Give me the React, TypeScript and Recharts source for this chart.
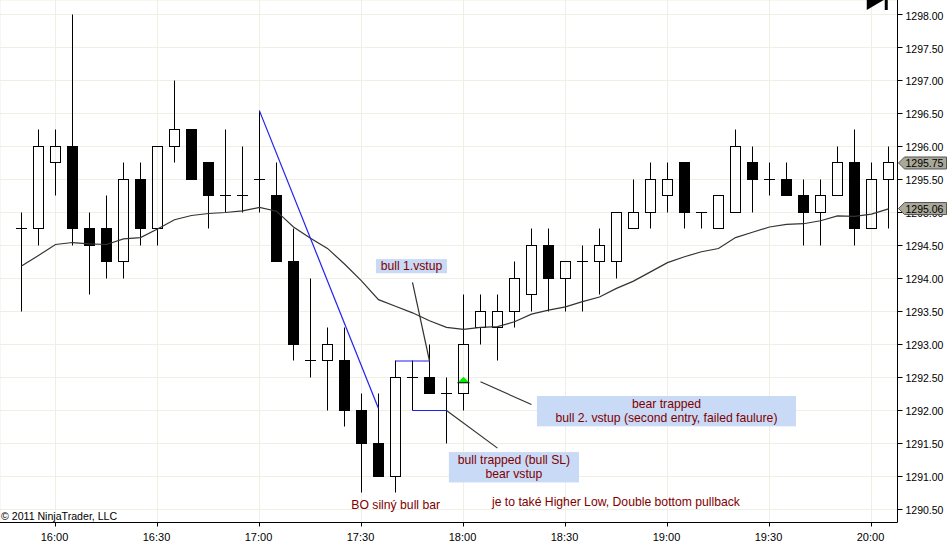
import React from 'react';
import {
  ComposedChart, Bar, Line, XAxis, YAxis, CartesianGrid,
  ReferenceLine, ReferenceArea, ReferenceDot,
} from 'recharts';

// bar start times, minutes after midnight
const times = [
  950, 955, 960, 965, 970, 975, 980, 985, 990, 995, 1000, 1005, 1010, 1015, 1020, 1025, 1030, 1035,
  1040, 1045, 1050, 1055, 1060, 1065, 1070, 1075, 1080, 1085, 1090, 1095, 1100, 1105, 1110, 1115,
  1120, 1125, 1130, 1135, 1140, 1145, 1150, 1155, 1160, 1165, 1170, 1175, 1180, 1185, 1190, 1195,
  1200, 1205,
];
const opens = [
  1294.75, 1294.75, 1295.75, 1296, 1294.75, 1294.75, 1294.25, 1295.5, 1294.75, 1296, 1296.25, 1295.75, 1295.25, 1295.25, 1295.5, 1295.25, 1294.25, 1292.75,
  1292.75, 1292.75, 1292, 1291.5, 1291, 1292.5, 1292.5, 1292.25, 1292.25, 1293.25, 1293.25, 1293.5, 1293.75, 1294.5, 1294, 1294.25,
  1294.25, 1294.25, 1294.75, 1295, 1295.25, 1295.75, 1295, 1294.75, 1295, 1295.75, 1295.5, 1295.5, 1295.25, 1295, 1295.25, 1295.75,
  1294.75, 1295.5,
];
const closes = [
  1294.75, 1296, 1296, 1294.75, 1294.5, 1294.25, 1295.5, 1294.75, 1296, 1296.25, 1295.5, 1295.25, 1295.25, 1295.25, 1295.5, 1294.25, 1293, 1292.75,
  1293, 1292, 1291.5, 1291, 1292.5, 1292.5, 1292.25, 1292.25, 1293, 1293.5, 1293.5, 1294, 1294.5, 1294, 1294.25, 1294.25,
  1294.5, 1295, 1295, 1295.5, 1295.5, 1295, 1295, 1295.25, 1296, 1295.5, 1295.5, 1295.25, 1295, 1295.25, 1295.75, 1294.75,
  1295.5, 1295.75,
];
const highs = [
  1295, 1296.25, 1296.25, 1298, 1295, 1295.25, 1295.75, 1295.75, 1296, 1297, 1296.25, 1295.75, 1296.25, 1296, 1296.54, 1295.75, 1294.75, 1294,
  1293.25, 1293.25, 1292.25, 1292.25, 1292.75, 1292.75, 1293, 1292.5, 1293.75, 1293.75, 1293.75, 1294.25, 1294.75, 1294.75, 1294.25, 1294.5,
  1294.75, 1295, 1295.5, 1295.75, 1295.75, 1295.75, 1295, 1295.25, 1296.25, 1296, 1295.75, 1295.75, 1295.5, 1295.5, 1296, 1296.25,
  1295.75, 1296,
];
const lows = [
  1293.5, 1294.5, 1295.25, 1294.5, 1293.75, 1294, 1294, 1294.5, 1294.5, 1295.75, 1295.5, 1294.75, 1295, 1295, 1295, 1294.25, 1292.75, 1292.5,
  1292, 1291.75, 1290.75, 1291, 1290.75, 1292, 1292.25, 1291.5, 1292, 1293, 1292.75, 1293.25, 1293.5, 1293.5, 1293.5, 1293.5,
  1293.75, 1294, 1294.75, 1294.75, 1295, 1294.75, 1294.75, 1294.75, 1295, 1295, 1295.25, 1295.25, 1294.5, 1294.5, 1295.25, 1294.5,
  1294.75, 1294.75,
];
const movingAverage = [
  1294.19, 1294.35, 1294.515, 1294.545, 1294.525, 1294.515, 1294.6, 1294.62, 1294.75, 1294.89, 1294.955, 1294.985, 1295, 1295.025, 1295.076, 1295.02, 1294.78, 1294.61,
  1294.456, 1294.22, 1293.965, 1293.68, 1293.58, 1293.48, 1293.36, 1293.26, 1293.23, 1293.26, 1293.27, 1293.345, 1293.46, 1293.52, 1293.57, 1293.65,
  1293.72, 1293.85, 1293.96, 1294.1, 1294.24, 1294.33, 1294.405, 1294.455, 1294.62, 1294.7, 1294.78, 1294.82, 1294.83, 1294.875, 1294.95, 1294.94,
  1294.975, 1295.055,
];

const timeTicks = [960, 990, 1020, 1050, 1080, 1110, 1140, 1170, 1200];
const priceTicks = [1290.5, 1291, 1291.5, 1292, 1292.5, 1293, 1293.5, 1294, 1294.5, 1295, 1295.5, 1296, 1296.5, 1297, 1297.5, 1298];

const blueLines = [
  [1020, 1296.54, 1055, 1292.03],
  [1060, 1292.75, 1070, 1292.75],
  [1065, 1292, 1075, 1292],
];
const greyLines = [
  [1065, 1293.94, 1070, 1292.75],
  [1085, 1292.435, 1100, 1292.09],
  [1075, 1292, 1090, 1291.43],
];
const noteBoxes = [
  { x1: 1054.26, x2: 1075.15, y1: 1294.08, y2: 1294.294, lines: ['bull 1.vstup'] },
  { x1: 1101.6, x2: 1177.8, y1: 1291.76, y2: 1292.22, lines: ['bear trapped', 'bull 2. vstup (second entry, failed faulure)'] },
  { x1: 1075.7, x2: 1113.97, y1: 1290.91, y2: 1291.37, lines: ['bull trapped (bull SL)', 'bear vstup'] },
];
const plainNotes = [
  { x: 1060.06, y: 1290.5, text: 'BO silný bull bar' },
  { x: 1124.85, y: 1290.55, text: 'je to také Higher Low, Double bottom pullback' },
];
const lastPrices = [1295.75, 1295.06];

const chartData = times.map((t, i) => ({
  t,
  range: [lows[i], highs[i]],
  open: opens[i],
  close: closes[i],
  high: highs[i],
  low: lows[i],
  ma: movingAverage[i],
}));

const FONT = '"Liberation Sans", Arial, sans-serif';
const NOTE_RED = '#800000';
const GRID = '#f0efe3';

const formatTime = (m: number) => `${Math.floor(m / 60)}:${String(m % 60).padStart(2, '0')}`;

// body and wick, pixel positions come from the bar's range scale.
// up bars are hollow: grid and average show through, the wick stops at the body
function Candle(props: any) {
  const { x, y, width, height, payload } = props;
  const { open, close, high, low } = payload;
  const cx = Math.floor(x + width / 2) + 0.5;
  const perUnit = height / (high - low || 1);
  const toY = (v: number) => Math.floor(y + (high - v) * perUnit) + 0.5;
  const top = toY(Math.max(open, close));
  const bottom = toY(Math.min(open, close));
  const bear = close < open;
  return (
    <g>
      <line x1={cx} x2={cx} y1={toY(high)} y2={top} stroke="#000" strokeWidth={1} />
      <line x1={cx} x2={cx} y1={bottom} y2={toY(low)} stroke="#000" strokeWidth={1} />
      {open === close ? (
        <line x1={cx - 5.5} x2={cx + 5.5} y1={top} y2={top} stroke="#000" strokeWidth={1} />
      ) : (
        <rect x={cx - 5} y={top} width={10} height={bottom - top} fill={bear ? '#000' : 'none'} stroke="#000" strokeWidth={1} />
      )}
    </g>
  );
}

function NoteBox(props: any) {
  const { x, y, width, height, lines } = props;
  const cx = x + width / 2;
  return (
    <g>
      <rect x={x} y={y} width={width} height={height} fill="#c9daf6" />
      {lines.map((line: string, i: number) => (
        <text key={line} x={cx} y={y + (height - lines.length * 14) / 2 + 10.5 + i * 14} textAnchor="middle" fontSize={12.2} fontFamily={FONT} fill={NOTE_RED}>
          {line}
        </text>
      ))}
    </g>
  );
}

function EntryArrow(props: any) {
  const { cx, cy } = props;
  return (
    <g>
      <polygon points={`${cx},${cy - 6} ${cx + 6},${cy} ${cx - 6},${cy}`} fill="#00ee00" />
      <line x1={cx - 6} x2={cx + 6} y1={cy} y2={cy} stroke="#000" strokeWidth={1} />
    </g>
  );
}

function PriceTag(props: any) {
  const { cx, cy, value } = props;
  const left = cx + 1;
  return (
    <g>
      <polygon
        points={`${left},${cy} ${left + 6},${cy - 6} ${left + 48},${cy - 6} ${left + 48},${cy + 6} ${left + 6},${cy + 6}`}
        fill="#a9a899"
        stroke="#555"
        strokeWidth={1}
      />
      <text x={left + 7} y={cy + 4} fontSize={10.5} fontFamily={FONT} fill="#000">{value.toFixed(2)}</text>
    </g>
  );
}

function EndIcon(props: any) {
  const { cx, cy } = props;
  return (
    <g>
      <polygon points={`${cx - 18},${cy} ${cx - 1},${cy} ${cx - 18},${cy + 10}`} fill="#000" />
      <rect x={cx} y={cy} width={3} height={10} fill="#000" />
    </g>
  );
}

function TimeTick(props: any) {
  const { x, y, payload } = props;
  return (
    <text x={x - 1} y={y + 12} textAnchor="middle" fontSize={11} fontFamily={FONT} fill="#000">
      {formatTime(payload.value)}
    </text>
  );
}

function PriceTick(props: any) {
  const { x, y, payload } = props;
  return (
    <text x={x} y={y + 5} fontSize={10.5} fontFamily={FONT} fill="#000">
      {payload.value.toFixed(2)}
    </text>
  );
}

export default function App() {
  return (
    <div style={{ position: 'absolute', left: 0, top: 0, width: 949, height: 544, background: '#fff' }}>
      <ComposedChart width={949} height={544} data={chartData} margin={{ top: 0, right: 0, bottom: 0, left: 0 }}>
        <CartesianGrid stroke={GRID} strokeWidth={1} />
        <XAxis
          dataKey="t"
          type="number"
          domain={[943.68, 1207.65]}
          ticks={timeTicks}
          allowDataOverflow
          height={21.5}
          tickSize={4}
          interval={0}
          tick={<TimeTick />}
          axisLine={{ stroke: '#000' }}
          tickLine={{ stroke: '#000' }}
        />
        <YAxis
          orientation="right"
          type="number"
          domain={[1290.303, 1298.2197]}
          ticks={priceTicks}
          allowDataOverflow
          width={51.5}
          tickSize={5}
          tickMargin={3}
          interval={0}
          tick={<PriceTick />}
          axisLine={{ stroke: '#000' }}
          tickLine={{ stroke: '#000' }}
        />
        <Line dataKey="ma" type="linear" stroke="#333" strokeWidth={1.2} dot={false} activeDot={false} isAnimationActive={false} />
        <Bar dataKey="range" barSize={11} shape={<Candle />} isAnimationActive={false} />
        {noteBoxes.map((b) => (
          <ReferenceArea key={b.lines[0]} x1={b.x1} x2={b.x2} y1={b.y1} y2={b.y2} shape={<NoteBox lines={b.lines} />} />
        ))}
        {plainNotes.map((n) => (
          <ReferenceDot
            key={n.text}
            x={n.x}
            y={n.y}
            shape={(p: any) => (
              <text x={p.cx} y={p.cy} textAnchor="middle" fontSize={12.2} fontFamily={FONT} fill={NOTE_RED}>{n.text}</text>
            )}
          />
        ))}
        {blueLines.map((l) => (
          <ReferenceLine key={l.join()} segment={[{ x: l[0], y: l[1] }, { x: l[2], y: l[3] }]} stroke="#2020f0" strokeWidth={1.2} />
        ))}
        {greyLines.map((l) => (
          <ReferenceLine key={l.join()} segment={[{ x: l[0], y: l[1] }, { x: l[2], y: l[3] }]} stroke="#333" strokeWidth={1.2} />
        ))}
        <ReferenceDot x={1080} y={1292.42} shape={<EntryArrow />} />
        <ReferenceDot x={1203.9} y={1298.2197} shape={<EndIcon />} ifOverflow="visible" />
        {lastPrices.map((p) => (
          <ReferenceDot key={p} x={1207.65} y={p} shape={<PriceTag value={p} />} ifOverflow="visible" zIndex={2000} />
        ))}
        <ReferenceDot
          x={943.68}
          y={1290.4}
          ifOverflow="visible"
          shape={(p: any) => (
            <text x={p.cx + 1} y={p.cy + 4} fontSize={10.6} fontFamily={FONT} fill="#000">© 2011 NinjaTrader, LLC</text>
          )}
        />
      </ComposedChart>
    </div>
  );
}
